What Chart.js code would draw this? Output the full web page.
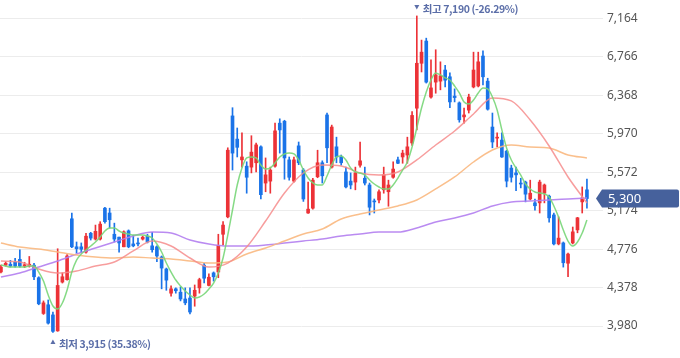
<!DOCTYPE html>
<html>
<head>
<meta charset="utf-8">
<script src="https://cdn.jsdelivr.net/npm/chart.js@4.4.0/dist/chart.umd.min.js"></script>
<style>
  html, body { margin: 0; padding: 0; background: #fff; }
  #wrap { width: 680px; height: 358px; }
</style>
</head>
<body>
<div id="wrap"><canvas id="chart" width="680" height="358"></canvas></div>
<script>
/* ==================== DATA ==================== */

// daily candles, oldest first
const opens = [4540,4610,4620,4640,4670,4600,4600,4610,4480,4110,4200,4095,3930,4435,4460,5090,4800,4800,4745,4940,
  4880,4880,5200,5150,4930,4900,4800,4965,4830,4840,4880,4910,4810,4800,4695,4570,4320,4365,4330,4260,
  4270,4290,4375,4610,4400,4530,4540,4930,5110,6155,5915,5700,5635,5625,5670,5835,5460,5480,5635,6080,
  6100,5700,5480,5845,5595,5150,5200,5525,5670,6165,5625,5835,5730,5575,5480,5470,5645,5510,5440,5275,
  5285,5390,5370,5520,5700,5730,5750,5875,6235,6700,6930,6350,6505,6515,6630,6560,6360,6290,6145,6215,
  6455,6465,6775,6515,6040,5925,5905,5790,5615,5565,5460,5470,5295,5255,5255,5355,5325,5130,4830,4840,
  4630,4840,4975,5265,5390];
const highs = [4610,4645,4660,4680,4770,4640,4700,4630,4490,4240,4250,4125,4780,4530,4720,5150,4850,4840,4940,4950,
  5025,5060,5210,5200,5045,4900,4965,4975,4920,4890,4910,4930,4950,4810,4705,4580,4395,4375,4385,4375,
  4375,4405,4475,4630,4520,4540,4930,5060,5825,6240,6030,5980,5680,5950,5875,5845,5720,5625,6080,6125,
  6110,5730,5730,5885,5610,5470,5510,5800,5690,6185,6060,5935,5750,5625,5565,5625,5885,5625,5460,5295,
  5390,5625,5490,5680,5730,5800,5935,6200,7190,6940,6960,6735,6840,6715,6680,6600,6435,6300,6235,6380,
  6815,6815,6830,6545,6185,5980,5980,5800,5645,5625,5510,5480,5490,5295,5490,5450,5335,5150,5110,4850,
  4735,5005,5105,5420,5500];
const lows = [4530,4600,4590,4590,4590,4585,4590,4460,4200,4100,4000,3915,3925,4425,4455,4790,4735,4740,4735,4870,
  4870,4870,5045,4995,4850,4745,4800,4790,4800,4810,4870,4840,4745,4645,4365,4350,4290,4320,4240,4200,
  4105,4185,4320,4425,4395,4445,4480,4820,5100,5595,5730,5625,5355,5565,5575,5295,5370,5355,5625,5770,
  5500,5490,5470,5650,5270,5145,5190,5515,5460,5670,5615,5670,5645,5410,5400,5390,5625,5440,5130,5150,
  5255,5355,5220,5510,5660,5665,5665,5850,6010,6610,6495,6340,6390,6425,6455,6240,6300,6090,6080,6185,
  6445,6455,6475,6215,5825,5835,5725,5420,5470,5380,5410,5265,5285,5180,5150,5255,5055,4820,4820,4590,
  4490,4830,4945,5150,5200];
const closes = [4590,4630,4600,4600,4600,4615,4620,4490,4210,4220,4010,3925,4400,4490,4705,4800,4780,4775,4910,4890,
  4960,5035,5060,5080,4880,4840,4955,4800,4810,4830,4900,4850,4770,4705,4580,4455,4365,4345,4260,4220,
  4125,4350,4460,4475,4485,4490,4815,5025,5800,5770,5830,5730,5520,5780,5855,5340,5545,5595,6000,6010,
  5720,5520,5700,5670,5295,5190,5490,5670,5535,5825,6040,5730,5670,5420,5440,5565,5690,5460,5210,5265,
  5370,5545,5440,5605,5665,5770,5835,6160,6700,6815,6505,6445,6580,6570,6525,6300,6345,6115,6165,6350,
  6630,6715,6560,6225,5885,5935,5730,5480,5520,5545,5450,5345,5355,5225,5470,5440,5100,4830,4890,4635,
  4725,4955,5100,5305,5300];

// moving averages
const ma5 = [4612,4601,4591,4591,4591,4591,4601,4601,4539,4446,4301,4187,4156,4218,4353,4539,4663,4726,4767,4808,
  4850,4902,4964,4995,4995,4964,4943,4933,4922,4922,4922,4912,4891,4829,4746,4632,4539,4456,4394,4342,
  4301,4270,4280,4311,4363,4425,4529,4684,4922,5181,5440,5616,5720,5730,5720,5647,5606,5616,5668,5730,
  5761,5771,5761,5699,5595,5512,5461,5440,5440,5533,5647,5730,5740,5699,5616,5575,5564,5543,5492,5450,
  5419,5399,5399,5440,5512,5595,5678,5833,6030,6237,6403,6527,6600,6579,6548,6527,6465,6393,6299,6279,
  6320,6393,6444,6434,6351,6217,6010,5823,5699,5616,5543,5450,5399,5368,5357,5347,5316,5223,5109,4974,
  4860,4808,4850,4943,5078];
const maStep = 4; // the slow averages below are read every 4th candle
const ma20 = [4653,4643,4570,4529,4550,4601,4643,4757,4860,4808,4684,4591,4632,4798,5067,5357,
  5564,5647,5637,5564,5543,5575,5699,5854,5999,6175,6341,6310,6113,5844,5523,5254];
const ma60 = [4839,4798,4777,4746,4715,4694,4684,4694,4684,4674,4653,4632,4643,4726,4788,4860,
  4933,4984,5088,5140,5181,5223,5285,5399,5523,5678,5802,5854,5833,5823,5751,5720];
const ma120 = [4487,4529,4591,4653,4726,4788,4850,4912,4953,4943,4871,4829,4808,4808,4819,4839,
  4860,4881,4912,4933,4953,4953,4995,5057,5098,5150,5223,5264,5274,5285,5295,5305];

const yTicks = [3980, 4378, 4776, 5174, 5572, 5970, 6368, 6766, 7164];

/* ==================== STYLE ==================== */
const UP = '#ec3237';
const DOWN = '#1a73e8';
const LABEL = '#5b6ea8';
const TAG = '#46619c';

const idx = opens.map((_, i) => i);
const candleColor = idx.map(i => closes[i] >= opens[i] ? UP : DOWN);

function maLine(values, step, color, order) {
    return {
        type: 'line',
        data: values.map((v, k) => ({ x: k * step, y: v })),
        borderColor: color,
        borderWidth: 1.5,
        pointRadius: 0,
        tension: 0.4,
        cubicInterpolationMode: 'monotone',
        order: order
    };
}

const fmt = v => v.toLocaleString('en-US');

// high / low markers and the last price tag
const overlay = {
    id: 'overlay',
    afterDraw(chart) {
        const ctx = chart.ctx;
        const xs = chart.scales.x, ys = chart.scales.y;
        const last = closes[closes.length - 1];

        let hi = 0, lo = 0;
        idx.forEach(i => {
            if (highs[i] > highs[hi]) hi = i;
            if (lows[i] < lows[lo]) lo = i;
        });

        ctx.save();
        ctx.font = 'bold 10.5px "Noto Sans CJK KR", "Noto Sans", sans-serif';
        ctx.letterSpacing = '-0.4px';
        ctx.fillStyle = LABEL;
        ctx.textBaseline = 'middle';
        ctx.textAlign = 'left';

        // highest
        let x = xs.getPixelForValue(hi);
        ctx.beginPath();
        ctx.moveTo(x - 2.5, 5); ctx.lineTo(x + 2.5, 5); ctx.lineTo(x, 9.5); ctx.closePath();
        ctx.fill();
        let pct = ((last - highs[hi]) / highs[hi] * 100).toFixed(2);
        ctx.fillText('최고 ' + fmt(highs[hi]) + ' (' + pct + '%)', x + 6, 9);

        // lowest
        x = xs.getPixelForValue(lo);
        ctx.beginPath();
        ctx.moveTo(x - 2.5, 344); ctx.lineTo(x + 2.5, 344); ctx.lineTo(x, 339.5); ctx.closePath();
        ctx.fill();
        pct = ((last - lows[lo]) / lows[lo] * 100).toFixed(2);
        ctx.fillText('최저 ' + fmt(lows[lo]) + ' (' + pct + '%)', x + 6, 344);

        // current price tag
        ctx.letterSpacing = '0px';
        const y = ys.getPixelForValue(last);
        const l = 596, b = 602, r = 679, h = 9;
        ctx.fillStyle = TAG;
        ctx.beginPath();
        ctx.moveTo(l, y);
        ctx.lineTo(b, y - h);
        ctx.lineTo(r - 2, y - h);
        ctx.quadraticCurveTo(r, y - h, r, y - h + 2);
        ctx.lineTo(r, y + h - 2);
        ctx.quadraticCurveTo(r, y + h, r - 2, y + h);
        ctx.lineTo(b, y + h);
        ctx.closePath();
        ctx.fill();
        ctx.fillStyle = '#fff';
        ctx.font = '13px "Noto Sans", sans-serif';
        ctx.fillText(fmt(last), 608, y + 0.5);
        ctx.restore();
    }
};

new Chart(document.getElementById('chart'), {
    type: 'bar',
    data: {
        datasets: [
            maLine(ma5, 1, 'rgba(120, 214, 120, 0.9)', 0),
            maLine(ma20, maStep, 'rgba(246, 140, 140, 0.85)', 0),
            maLine(ma60, maStep, 'rgba(250, 184, 128, 0.9)', 0),
            maLine(ma120, maStep, 'rgba(178, 126, 240, 0.9)', 0),
            {
                // wicks
                data: idx.map(i => ({ x: i, y: [lows[i], highs[i]] })),
                backgroundColor: candleColor,
                barThickness: 1,
                grouped: false,
                order: 2
            },
            {
                // bodies
                data: idx.map(i => ({ x: i, y: [opens[i], closes[i]] })),
                backgroundColor: candleColor,
                barThickness: 3,
                grouped: false,
                order: 1
            }
        ]
    },
    options: {
        responsive: false,
        animation: false,
        devicePixelRatio: 1,
        events: [],
        layout: { padding: 0 },
        plugins: {
            legend: { display: false },
            tooltip: { enabled: false }
        },
        scales: {
            x: {
                type: 'linear',
                display: false,
                offset: false,
                min: -0.2,
                max: 127.4,
                grid: { display: false }
            },
            y: {
                position: 'right',
                min: 3649,
                max: 7355,
                afterBuildTicks: s => { s.ticks = yTicks.map(v => ({ value: v })); },
                afterFit: s => {
                    s.width = 77;
                    s.paddingTop = 0;
                    s.paddingBottom = 0;
                },
                border: { display: false },
                grid: {
                    color: '#ececec',
                    drawTicks: false
                },
                ticks: {
                    padding: 4,
                    color: '#555',
                    font: { family: '"Noto Sans", sans-serif', size: 12 },
                    callback: v => fmt(v)
                }
            }
        }
    },
    plugins: [overlay]
});
</script>
</body>
</html>
